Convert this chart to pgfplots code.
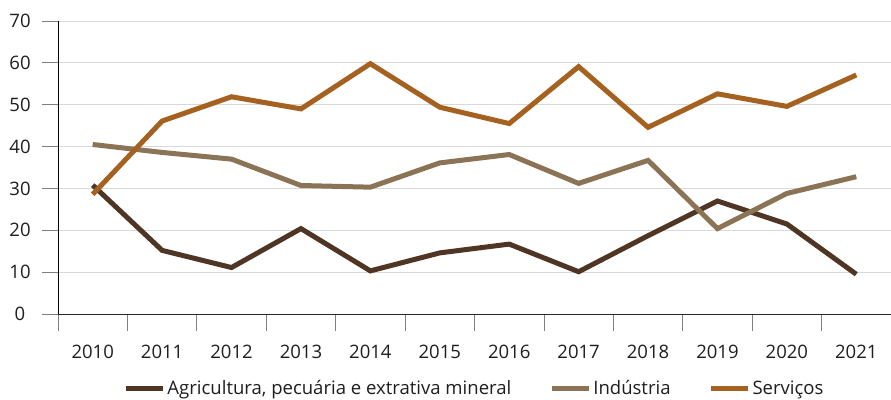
\documentclass[border=0pt]{standalone}
\usepackage{pgfplots}
\pgfplotsset{compat=1.18}
\usepackage{fontspec}
\setmainfont{Open Sans}
\definecolor{agri}{HTML}{4E3524}
\definecolor{ind}{HTML}{8B7356}
\definecolor{serv}{HTML}{A5611F}
\definecolor{gridc}{HTML}{D9D9D9}
\definecolor{tickc}{HTML}{7F7F7F}
\definecolor{txt}{HTML}{1E1E1E}
\begin{document}
\begin{tikzpicture}
\begin{axis}[
  scale only axis, width=833bp, height=293bp,
  xmin=-0.5, xmax=11.5, ymin=0, ymax=70,
  axis x line*=bottom, axis y line*=left,
  x axis line style={draw=black!85, line width=0.8bp, -},
  y axis line style={draw=black, line width=0.8bp, -},
  xtick={0,...,11},
  xticklabels={2010,2011,2012,2013,2014,2015,2016,2017,2018,2019,2020,2021},
  minor xtick={-0.5,0.5,...,10.5},
  major x tick style={draw=none},
  minor x tick style={draw=tickc, line width=0.8bp},
  minor tick length=17bp,
  ytick={0,10,...,70},
  major y tick style={draw=tickc, line width=0.8bp},
  major tick length=16bp,
  tick align=outside,
  ymajorgrids, grid style={draw=gridc, line width=0.8bp},
  /pgf/number format/assume math mode=true,
  ticklabel style={font=\fontsize{18.6}{21}\selectfont, text=txt},
  xticklabel style={anchor=center, yshift=-22bp},
  yticklabel style={anchor=center, xshift=-22bp},
  legend style={at={(0.5,-0.2526)}, anchor=center, draw=none, fill=none,
    font=\fontsize{18.6}{21}\selectfont, text=txt,
    legend columns=3, /tikz/every even column/.append style={column sep=36bp},
    inner sep=0pt},
  legend image code/.code={\draw[#1, line cap=butt] (0bp,0bp) -- (37bp,0bp);},
  every axis plot/.append style={line width=5bp, line join=miter},
]
\addplot[agri] coordinates {(0,30.8) (1,15.2) (2,11.1) (3,20.4) (4,10.3) (5,14.6) (6,16.7) (7,10.1) (8,18.7) (9,27.0) (10,21.5) (11,9.5)};
\addlegendentry{Agricultura, pecuária e extrativa mineral}
\addplot[ind] coordinates {(0,40.5) (1,38.6) (2,37.0) (3,30.7) (4,30.3) (5,36.1) (6,38.1) (7,31.2) (8,36.7) (9,20.4) (10,28.8) (11,32.8)};
\addlegendentry{Indústria}
\addplot[serv] coordinates {(0,28.6) (1,46.1) (2,51.9) (3,49.0) (4,59.8) (5,49.4) (6,45.5) (7,59.1) (8,44.6) (9,52.6) (10,49.6) (11,57.1)};
\addlegendentry{Serviços}
\end{axis}
\pgfresetboundingbox
\path ([shift={(-58bp,-86bp)}]current axis.south west) rectangle ([shift={(0bp,21bp)}]current axis.north east);
\end{tikzpicture}
\end{document}
